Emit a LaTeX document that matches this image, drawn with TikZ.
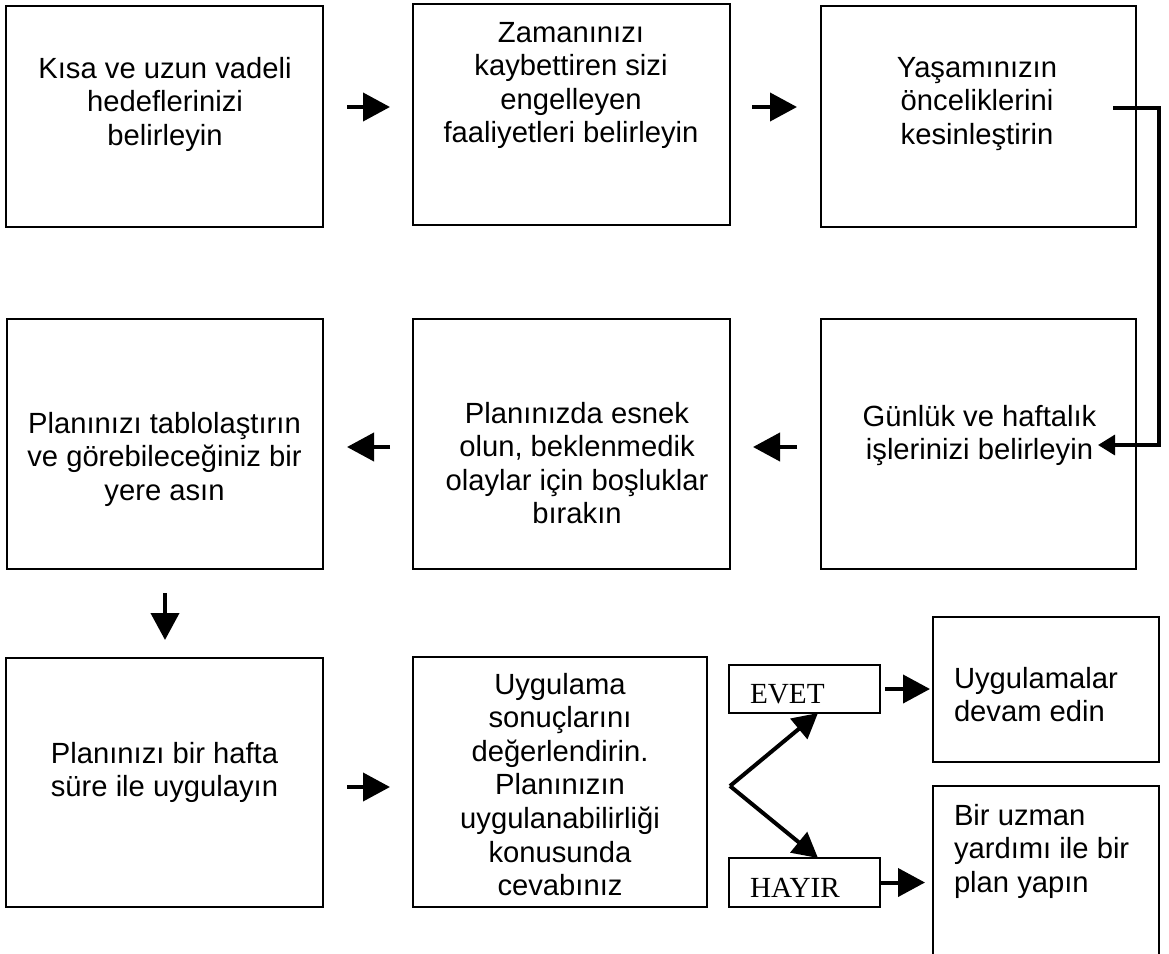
\documentclass[tikz,border=0pt]{standalone}
\usepackage{fontspec}
\setmainfont{Liberation Sans}
\newfontfamily\timesfont{Liberation Serif}
\usetikzlibrary{arrows.meta,calc}
\begin{document}
\begin{tikzpicture}[x=1pt,y=-1pt,
  box/.style={draw,line width=1.6pt,inner sep=0pt,outer sep=0pt},
  txt/.style={inner sep=0pt,outer sep=0pt,align=center,anchor=north,font=\fontsize{29.2}{33.6}\selectfont},
  ltxt/.style={txt,align=left,anchor=north west},
  yn/.style={inner sep=0pt,outer sep=0pt,anchor=base west,font=\timesfont\fontsize{29.2}{33.6}\selectfont},
  arr/.style={line width=4pt,-{Triangle[length=27pt,width=28pt]}},
  conn/.style={line width=3.3pt,-{Triangle[length=17pt,width=20pt]}},
  diag/.style={line width=4pt,-{Triangle[length=25pt,width=26pt]}}]
\useasboundingbox (0,0) rectangle (1169,953);
\fill[white] (0,0) rectangle (1169,953);

% row 1
\node[box,minimum width=317pt,minimum height=221pt] (b1) at (164.5,116.5) {};
\node[box,minimum width=317pt,minimum height=221pt] (b2) at (571.5,114.5) {};
\node[box,minimum width=315pt,minimum height=221pt] (b3) at (978.5,116.5) {};
% row 2
\node[box,minimum width=316pt,minimum height=250pt] (b4) at (165,444) {};
\node[box,minimum width=317pt,minimum height=250pt] (b5) at (571.5,444) {};
\node[box,minimum width=315pt,minimum height=250pt] (b6) at (978.5,444) {};
% row 3
\node[box,minimum width=317pt,minimum height=249pt] (b7) at (164.5,782.5) {};
\node[box,minimum width=294pt,minimum height=250pt] (b8) at (560,782) {};
\node[box,minimum width=151pt,minimum height=48pt] (evet) at (804.5,689) {};
\node[box,minimum width=151pt,minimum height=49pt] (hayir) at (804.5,882.5) {};
\node[box,minimum width=226pt,minimum height=145pt] (b9) at (1046,689.5) {};
\coordinate (b10bl) at (933,962);
\coordinate (b10tl) at (933,786);
\coordinate (b10tr) at (1159,786);
\coordinate (b10br) at (1159,962);
\draw[line width=1.6pt] (b10bl) -- (b10tl) -- (b10tr) -- (b10br);

% texts
\node[txt] (t1) at (165,57) {Kısa ve uzun vadeli\\hedeflerinizi\\belirleyin};
\node[txt] (t2) at (571,22) {Zamanınızı\\kaybettiren sizi\\engelleyen\\faaliyetleri belirleyin};
\node[txt] (t3) at (977,57) {Yaşamınızın\\önceliklerini\\kesinleştirin};
\node[txt] (t4) at (164.5,412) {Planınızı tablolaştırın\\ve görebileceğiniz bir\\yere asın};
\node[txt] (t5) at (577,402) {Planınızda esnek\\olun, beklenmedik\\olaylar için boşluklar\\bırakın};
\node[txt] (t6) at (979.5,405) {Günlük ve haftalık\\işlerinizi belirleyin};
\node[txt] (t7) at (164.5,742) {Planınızı bir hafta\\süre ile uygulayın};
\node[txt] (t8) at (560,673) {Uygulama\\sonuçlarını\\değerlendirin.\\Planınızın\\uygulanabilirliği\\konusunda\\cevabınız};
\node[ltxt] (t9) at (954,667) {Uygulamalar\\devam edin};
\node[ltxt] (t10) at (954,804) {Bir uzman\\yardımı ile bir\\plan yapın};
\node[yn] (te) at (750,703) {EVET};
\node[yn] (th) at (750,897) {HAYIR};

% arrows between boxes
\coordinate (a1s) at (347,107); \coordinate (a1e) at (390,107);
\coordinate (a2s) at (752,107); \coordinate (a2e) at (797,107);
\coordinate (a3s) at (797,447); \coordinate (a3e) at (753,447);
\coordinate (a4s) at (390,447); \coordinate (a4e) at (347,447);
\coordinate (a5s) at (165,593); \coordinate (a5e) at (165,640);
\coordinate (a6s) at (347,787); \coordinate (a6e) at (390,787);
\draw[arr] (a1s) -- (a1e);
\draw[arr] (a2s) -- (a2e);
\draw[arr] (a3s) -- (a3e);
\draw[arr] (a4s) -- (a4e);
\draw[arr] (a5s) -- (a5e);
\draw[arr] (a6s) -- (a6e);

% connector box3 -> box6
\coordinate (c1) at (1113,108);
\coordinate (c2) at (1159,108);
\coordinate (c3) at (1159,445);
\coordinate (c4) at (1098,445);
\draw[conn] (c1) -- (c2) -- (c3) -- (c4);

% decision branches
\coordinate (br) at (730,786);
\draw[diag] (br) -- ([xshift=13.5pt]evet.south);
\draw[diag] (br) -- ([xshift=13.5pt]hayir.north);
\coordinate (y2) at (930,689);
\coordinate (h2) at (925,882.5);
\draw[arr] ([xshift=5pt]evet.east) -- (y2);
\draw[arr] (hayir.east) -- (h2);
\end{tikzpicture}
\end{document}
